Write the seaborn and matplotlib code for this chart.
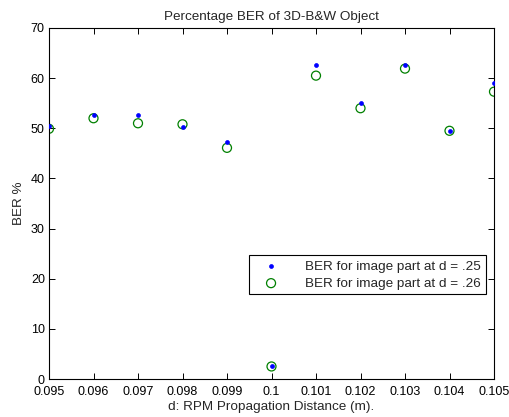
import matplotlib
matplotlib.use("Agg")
import matplotlib.pyplot as plt
import seaborn as sns
import pandas as pd

distance = [0.095, 0.096, 0.097, 0.098, 0.099, 0.100, 0.101, 0.102, 0.103, 0.104, 0.105]
ber_d25 = [50.5, 52.6, 52.6, 50.3, 47.3, 2.5, 62.6, 55.0, 62.6, 49.5, 59.1]
ber_d26 = [49.9, 52.0, 51.0, 50.8, 46.1, 2.5, 60.5, 54.0, 61.9, 49.5, 57.3]
xtick_vals = [0.095, 0.096, 0.097, 0.098, 0.099, 0.100, 0.101, 0.102, 0.103, 0.104, 0.105]
xtick_labels = ["0.095", "0.096", "0.097", "0.098", "0.099", "0.1",
                "0.101", "0.102", "0.103", "0.104", "0.105"]
ytick_vals = [0, 10, 20, 30, 40, 50, 60, 70]
label_25 = "BER for image part at d = .25"
label_26 = "BER for image part at d = .26"

df = pd.DataFrame({"d": distance, "b25": ber_d25, "b26": ber_d26})

sns.set_theme(style="ticks")
plt.rcParams["font.family"] = ["Liberation Sans", "DejaVu Sans"]

FS = 9.7
TS = 9.0
fig = plt.figure(figsize=(5.10, 4.17), dpi=100)
ax = fig.add_axes([49 / 510, 1 - 379 / 417, 445 / 510, 351 / 417])

sns.scatterplot(data=df, x="d", y="b25", ax=ax, marker="o", s=8,
                color=(0, 0, 1), edgecolor=(0, 0, 1), linewidth=0.5,
                label=label_25, zorder=3)
sns.scatterplot(data=df, x="d", y="b26", ax=ax, marker="o", s=42,
                facecolors="none", edgecolor=(0, 0.5, 0), linewidth=0.9,
                label=label_26, zorder=2)

ax.set_xlim(0.095, 0.105)
ax.set_ylim(0, 70)
ax.set_xticks(xtick_vals)
ax.set_xticklabels(xtick_labels)
ax.set_yticks(ytick_vals)
ax.tick_params(direction="in", top=True, right=True, length=4, width=0.7,
               labelsize=TS, colors="black")
ax.tick_params(axis="x", pad=5)
ax.tick_params(axis="y", pad=3)
for sp in ax.spines.values():
    sp.set_visible(True)
    sp.set_color("black")
    sp.set_linewidth(0.8)

ax.set_title("Percentage BER of 3D-B&W Object", fontsize=FS, pad=6)
ax.set_xlabel("d: RPM Propagation Distance (m).", fontsize=FS, labelpad=2)
ax.set_ylabel("BER %", fontsize=FS, labelpad=4)

leg = ax.legend(loc="lower right", bbox_to_anchor=(0.982, 0.241),
                fontsize=FS, frameon=True, fancybox=False, framealpha=1,
                edgecolor="black", borderpad=0.35, handletextpad=1.3,
                labelspacing=0.35, borderaxespad=0, handlelength=2.5)
leg.get_frame().set_linewidth(0.8)

fig.savefig("out.png", dpi=100)
